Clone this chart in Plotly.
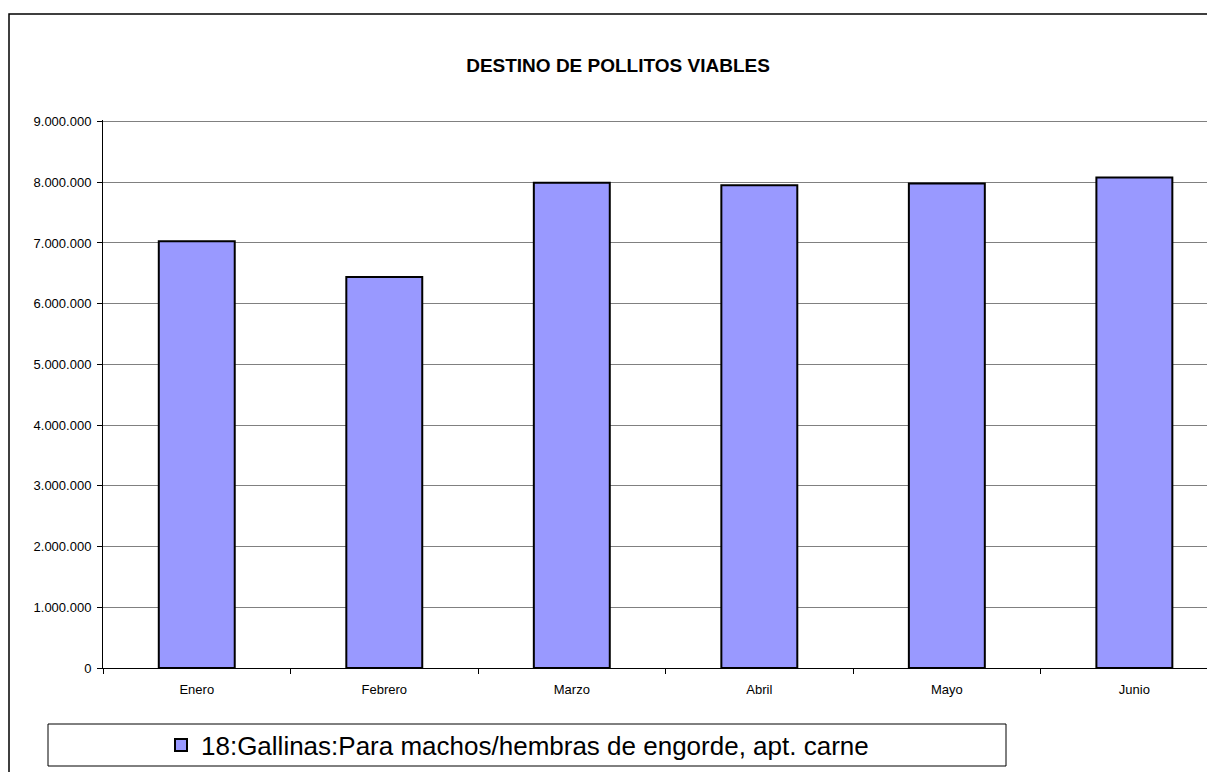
import plotly.graph_objects as go

# data
meses = ["Enero", "Febrero", "Marzo", "Abril", "Mayo", "Junio"]
pollitos = [7030000, 6440000, 7990000, 7950000, 7980000, 8080000]
serie = "18:Gallinas:Para machos/hembras de engorde, apt. carne"
y_ticks = [0, 1000000, 2000000, 3000000, 4000000, 5000000, 6000000, 7000000, 8000000, 9000000]

FONT = "Arial, Liberation Sans, sans-serif"

fig = go.Figure()
fig.add_trace(go.Bar(
    x=meses, y=pollitos, name=serie, width=0.405,
    marker=dict(color="#9999FF", line=dict(color="black", width=2)),
))

# page has an 8px body margin, so figure pixel = page pixel - 8
OFF = 8
W, H = 1207, 764
L, R, T, B = 95, 0, 112, 104
pw, ph = W - L - R, H - T - B

def px_x(p):  # page px -> paper x
    return (p - OFF - L) / pw

def px_y(p):  # page px -> paper y
    return (H - B - (p - OFF)) / ph

fig.update_layout(
    width=W, height=H,
    margin=dict(l=L, r=R, t=T, b=B),
    paper_bgcolor="white", plot_bgcolor="white",
    separators=",.",
    font=dict(family=FONT, size=13, color="black"),
    title=dict(text="<b>DESTINO DE POLLITOS VIABLES</b>", x=(618 - OFF) / W, xanchor="center",
               y=1 - (65 - OFF) / H, yanchor="middle", font=dict(size=19, family=FONT)),
    showlegend=True,
    legend=dict(x=px_x(161), y=px_y(745), xanchor="left", yanchor="middle",
                font=dict(size=26, family=FONT), bgcolor="rgba(0,0,0,0)"),
    shapes=[
        # outer chart border
        dict(type="rect", xref="paper", yref="paper",
             x0=px_x(9), x1=px_x(1300), y0=px_y(900), y1=px_y(14),
             line=dict(color="black", width=1.5)),
        # legend box
        dict(type="rect", xref="paper", yref="paper",
             x0=px_x(48), x1=px_x(1006), y0=px_y(766), y1=px_y(724),
             line=dict(color="black", width=1)),
    ],
)

fig.update_yaxes(
    range=[0, 9025000], tickvals=y_ticks, tickformat=",d",
    showgrid=True, gridcolor="#808080", gridwidth=1,
    showline=True, linecolor="black", linewidth=1,
    ticks="outside", ticklen=5, tickcolor="black",
    zeroline=False, ticklabelstandoff=3,
)
fig.update_xaxes(
    range=[-0.5, 5.43],
    showline=True, linecolor="black", linewidth=1,
    ticks="outside", ticklen=5, tickcolor="black", tickson="boundaries",
    showgrid=False, ticklabelstandoff=9,
)

fig.write_html("out.html")
